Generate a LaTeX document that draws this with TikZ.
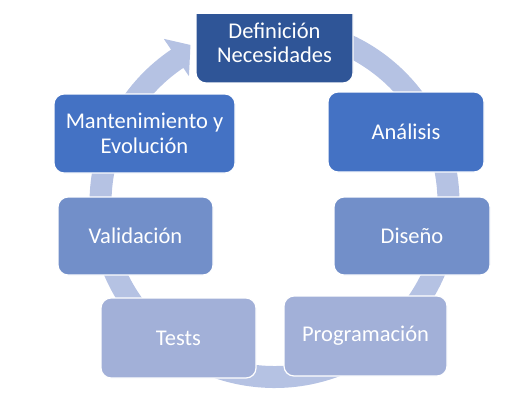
\documentclass[tikz,border=0pt]{standalone}
\usepackage{fontspec}
\setmainfont{Carlito}
\usetikzlibrary{calc}
\definecolor{cdark}{RGB}{47,85,151}
\definecolor{cmid}{RGB}{68,114,196}
\definecolor{clight}{RGB}{114,143,201}
\definecolor{cpale}{RGB}{162,176,216}
\definecolor{cring}{RGB}{181,194,227}
\begin{document}
\begin{tikzpicture}[x=1pt,y=1pt,
  box/.style={draw=white, line width=1.2pt, rounded corners=10pt, text=white,
    align=center, inner sep=0pt, font=\fontsize{22.5}{24.5}\selectfont}]
\useasboundingbox (0,0) rectangle (526,-401);
\coordinate (c) at (274.5,-203);
% ring with arrowhead
\fill[cring] ($(c)+(85:185)$) arc[start angle=85, end angle=-236, radius=185]
  -- ($(c)+(124:198)$) -- ($(c)+(118:179)$) -- ($(c)+(124:153)$)
  -- ($(c)+(124:163)$) arc[start angle=-236, end angle=85, radius=163] -- cycle;
% boxes
\begin{scope}
\clip (0,-15) rectangle (526,-401);
\node[box, fill=cdark, minimum width=157pt, minimum height=80pt] (def) at (274.5,-43) {Definición\\Necesidades};
\end{scope}
\node[box, fill=cmid, minimum width=181pt, minimum height=79pt] (man) at (144.5,-133.5) {Mantenimiento y\\Evolución};
\node[box, fill=cmid, minimum width=156pt, minimum height=80pt] (ana) at (406,-132) {Análisis};
\node[box, fill=clight, minimum width=155pt, minimum height=78pt] (val) at (135.5,-236) {Validación};
\node[box, fill=clight, minimum width=156pt, minimum height=78pt] (dis) at (412,-236) {Diseño};
\node[box, fill=cpale, minimum width=155pt, minimum height=80pt] (tes) at (178.5,-338) {Tests};
\node[box, fill=cpale, minimum width=163pt, minimum height=80pt] (pro) at (365.5,-336) {Programación};
\end{tikzpicture}
\end{document}
